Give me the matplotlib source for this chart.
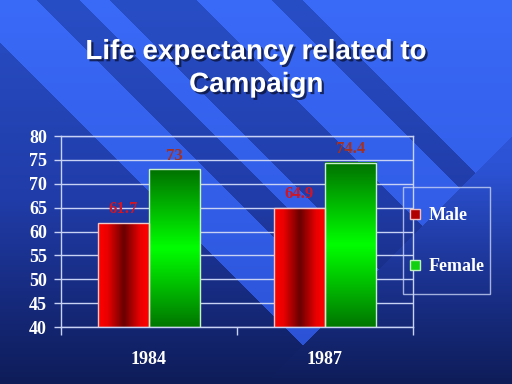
import numpy as np
import matplotlib
matplotlib.use("Agg")
import matplotlib.pyplot as plt
import matplotlib.patheffects as pe
from matplotlib.lines import Line2D
from matplotlib.legend_handler import HandlerLine2D

# ---- data ----
categories = ["1984", "1987"]
series_names = ["Male", "Female"]
male = [61.7, 64.9]
female = [73, 74.4]
y_ticks = [40, 45, 50, 55, 60, 65, 70, 75, 80]
title = "Life expectancy related to\nCampaign"

plt.rcParams['font.family'] = ['Liberation Serif', 'DejaVu Serif']
plt.rcParams['font.weight'] = 'bold'

W, H = 512, 384
fig = plt.figure(figsize=(W / 100, H / 100), dpi=100)

# ---- background (slide gradient with diagonal stripes) ----
yy, xx = np.mgrid[0:H, 0:W] + 0.5
def vgrad(stops):
    ys = [s[0] for s in stops]
    out = np.zeros((H, W, 3))
    for k in range(3):
        out[..., k] = np.interp(yy, ys, [s[1][k] for s in stops])
    return out
light = vgrad([(0, (58, 106, 248)), (200, (50, 94, 232)), (384, (42, 80, 210))])
dark = vgrad([(0, (40, 78, 198)), (200, (32, 60, 168)), (300, (22, 42, 125)), (384, (14, 28, 88))])
base = vgrad([(0, (52, 96, 235)), (170, (44, 82, 212)), (270, (28, 52, 148)), (384, (14, 28, 88))])
c = xx - yy
s = xx + yy
light_mask = (((c >= -42) & (c < 37)) | ((c >= 80) & (c < 110)) |
              ((c >= 197) & (c < 272)) | (c >= 303)) & (s < 649)
dark_mask = (~light_mask) & (s < 649)
img = base.copy()
img[light_mask] = light[light_mask]
img[dark_mask] = dark[dark_mask]
bg = fig.add_axes([0, 0, 1, 1], zorder=0)
bg.imshow(img / 255.0, aspect='auto', interpolation='bilinear')
bg.axis('off')

gc = '#c8d2f5'

# ---- title ----
fig.text(0.5, 1 - 68.5 / H, title, ha='center', va='center', fontsize=20,
         fontweight='bold', family=['Liberation Sans', 'DejaVu Sans'],
         color='white', linespacing=1.34,
         path_effects=[pe.withSimplePatchShadow(offset=(1.6, -1.6),
                                                shadow_rgbFace='#0a1030', alpha=0.75)])

# ---- chart ----
ax = fig.add_axes([61 / W, 1 - 327 / H, 352 / W, 191 / H], zorder=1)
ax.patch.set_alpha(0)
x = np.arange(len(categories))
bw = 0.29
ymin, ymax = y_ticks[0], y_ticks[-1]

bars_m = ax.bar(x - bw / 2, [v - ymin for v in male], bw, bottom=ymin,
                facecolor='none', edgecolor='#f0c8c8', linewidth=1, zorder=3)
bars_f = ax.bar(x + bw / 2, [v - ymin for v in female], bw, bottom=ymin,
                facecolor='none', edgecolor='#c8f0c8', linewidth=1, zorder=3)

# gradients
n = 64
tt = np.linspace(0, 1, n)
red_prof = np.interp(tt, [0, 0.18, 0.5, 0.82, 1], [255, 235, 105, 235, 255])
grad_m = np.zeros((1, n, 3))
grad_m[0, :, 0] = red_prof / 255
green_prof = np.interp(tt, [0, 0.5, 1], [115, 255, 120])
grad_f = np.zeros((n, 1, 3))
grad_f[:, 0, 1] = green_prof / 255

for r in bars_m:
    x0, y0, w, h = r.get_x(), r.get_y(), r.get_width(), r.get_height()
    ax.imshow(grad_m, extent=[x0, x0 + w, y0, y0 + h], aspect='auto',
              interpolation='bilinear', zorder=2)
for r in bars_f:
    x0, y0, w, h = r.get_x(), r.get_y(), r.get_width(), r.get_height()
    ax.imshow(grad_f, extent=[x0, x0 + w, y0, y0 + h], aspect='auto',
              interpolation='bilinear', zorder=2)

# value labels
for bars, vals, col in [(bars_m, male, '#d01525'), (bars_f, female, '#a8301c')]:
    for r, v in zip(bars, vals):
        ax.annotate(f"{v:g}", (r.get_x() + r.get_width() / 2, r.get_y() + r.get_height()),
                    xytext=(0, 10), textcoords='offset points', ha='center', va='center',
                    color=col, fontsize=12, fontweight='bold', zorder=4)

ax.set_xlim(-0.5, len(categories) - 0.5)
ax.set_ylim(ymin, ymax)
ax.set_yticks(y_ticks)
ax.yaxis.grid(True, color=gc, linewidth=1)
ax.set_axisbelow(True)
ax.tick_params(axis='y', length=5, color=gc, width=1, pad=5, labelsize=13,
               labelcolor='white')
ax.set_xticks(x, categories)
ax.tick_params(axis='x', which='major', length=0, pad=17, labelsize=13,
               labelcolor='white')
ax.set_xticks(np.arange(len(categories) + 1) - 0.5, minor=True)
ax.tick_params(axis='x', which='minor', length=6, color=gc, width=1, direction='out')
for sp in ax.spines.values():
    sp.set_color(gc)
    sp.set_linewidth(1)

# ---- legend ----
class ShiftedHandler(HandlerLine2D):
    def create_artists(self, legend, orig_handle, xdescent, ydescent, width,
                       height, fontsize, trans):
        arts = super().create_artists(legend, orig_handle, xdescent, ydescent,
                                      width, height, fontsize, trans)
        for a in arts:
            a.set_ydata(np.asarray(a.get_ydata()) - 0.44 * fontsize)
        return arts

handles = [
    Line2D([], [], marker='s', ls='none', ms=7.5, mfc='#b00000', mec='#f0c0c0', mew=1),
    Line2D([], [], marker='s', ls='none', ms=7.5, mfc='#10d010', mec='#c0f0c0', mew=1),
]
hmap = {h: ShiftedHandler() for h in handles}
leg = fig.legend(handles, series_names, loc='upper left',
                 bbox_to_anchor=(403 / W, 1 - 187 / H), borderaxespad=0,
                 borderpad=0.3, handlelength=0.7, handleheight=3.5,
                 handletextpad=0.4, labelspacing=0.28, handler_map=hmap,
                 prop={'family': 'Liberation Serif', 'weight': 'bold', 'size': 13},
                 labelcolor='white', frameon=True, fancybox=False,
                 edgecolor=gc, facecolor='none')
leg.get_frame().set_linewidth(1)
leg.set_zorder(5)

fig.savefig("out.png", dpi=100)
